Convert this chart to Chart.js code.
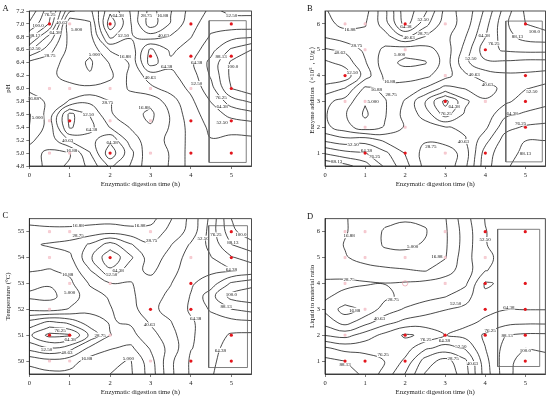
<!DOCTYPE html>
<html>
<head>
<meta charset="utf-8">
<script src="https://cdn.jsdelivr.net/npm/chart.js@4.4.1/dist/chart.umd.min.js"></script>
<style>
  body { margin: 0; background: #fff; width: 550px; height: 399px; overflow: hidden; position: relative; }
  canvas { position: absolute; }
</style>
</head>
<body>
<canvas id="pa" width="275" height="200" style="left:0;top:0"></canvas>
<canvas id="pb" width="275" height="200" style="left:275px;top:0"></canvas>
<canvas id="pc" width="275" height="199" style="left:0;top:200px"></canvas>
<canvas id="pd" width="275" height="199" style="left:275px;top:200px"></canvas>
<script>
// shared
const gridX = [0, 0.5, 1, 1.5, 2, 2.5, 3, 3.5, 4, 4.5, 5, 5.5];
const levels = [5, 16.875, 28.75, 40.625, 52.5, 64.375, 76.25, 88.125, 100];
const timeTicks = [0, 1, 2, 3, 4, 5];
const xTitle = "Enzymatic digestion time (h)";

// ---- A : pH ----
const aGridY = [7.2, 7.0, 6.8, 6.6, 6.4, 6.2, 6.0, 5.8, 5.6, 5.4, 5.2, 5.0, 4.8];
const aZ = [
  [110, 80, 30, 25, 62, 40, 12, 28, 45, 55, 50, 50],
  [98, 75, 6, 15, 72, 42, 10, 30, 48, 60, 58, 57],
  [80, 48, 12, 12, 55, 42, 35, 42, 52, 66, 72, 75],
  [55, 33, 13, 8, 30, 32, 67, 50, 58, 72, 90, 100],
  [25, 22, 12, 3, 18, 30, 70, 55, 62, 80, 102, 110],
  [22, 20, 12, 6, 14, 32, 46, 50, 58, 78, 103, 112],
  [18, 21, 21, 20, 22, 30, 38, 45, 55, 72, 100, 108],
  [14, 18, 30, 38, 29, 24, 20, 35, 50, 65, 82, 90],
  [4, 22, 68, 52, 30, 22, 14, 30, 48, 58, 68, 72],
  [5, 22, 66, 56, 40, 28, 18, 30, 45, 55, 56, 58],
  [15, 22, 42, 48, 62, 35, 22, 32, 44, 52, 50, 50],
  [20, 15, 16, 40, 72, 45, 18, 30, 45, 50, 48, 48],
  [22, 14, 18, 32, 55, 40, 20, 30, 45, 50, 48, 48]
];
const aTicks = [4.8, 5.0, 5.2, 5.4, 5.6, 5.8, 6.0, 6.2, 6.4, 6.6, 6.8, 7.0, 7.2];
const aRed = [[0.5, 7], [2, 7], [4, 7], [5, 7], [3, 6.5], [4, 6.5], [5, 6.5], [5, 6], [1, 5.5], [4, 5.5], [5, 5.5], [2, 5], [4, 5], [5, 5]];
const aPink = [[1, 7], [0.5, 6], [1, 6], [2, 6], [3, 6], [4, 6], [0.5, 5.5], [2, 5.5], [3, 5.5], [0.5, 5], [1, 5], [3, 5]];
const aBox = [4.45, 4.855, 5.37, 7.05];
const aLabels = [
  [0.51, 7.14, "76.25"], [0.22, 6.98, "100.0"], [0.8, 7.03, "40.63"], [0.64, 6.87, "64.38"],
  [0.14, 6.83, "88.13"], [0.14, 6.62, "52.50"], [0.51, 6.52, "28.75"], [1.17, 6.92, "5.000"],
  [2.2, 7.13, "64.38"], [2.33, 6.83, "52.50"], [2.9, 7.13, "28.75"], [3.3, 7.13, "16.88"],
  [3.32, 6.83, "40.63"], [1.61, 6.53, "5.000"], [2.37, 6.49, "16.88"], [3.4, 6.34, "64.38"],
  [2.99, 6.17, "40.63"], [4.14, 6.41, "64.38"], [4.14, 6.08, "52.50"], [4.75, 6.49, "88.13"],
  [5.03, 6.34, "100.0"], [4.75, 5.86, "76.25"], [4.77, 5.72, "64.38"], [4.77, 5.48, "52.50"],
  [5.01, 7.13, "52.50"], [0.1, 5.85, "16.88"], [0.2, 5.55, "5.000"], [1.94, 5.79, "28.75"],
  [2.84, 5.71, "16.88"], [1.46, 5.6, "52.50"], [1.54, 5.36, "64.38"], [0.95, 5.2, "40.63"],
  [1.05, 5.04, "16.88"], [2.05, 5.17, "64.38"]
];

// ---- B : enzyme addition ----
const bGridY = [6.5, 6.0, 5.5, 5.0, 4.5, 4.0, 3.5, 3.0, 2.5, 2.0, 1.5, 1.0, 0.5];
const bZ = [
  [18, 10, 12, 38, 72, 55, 25, 32, 55, 82, 102, 112],
  [20, 14, 16, 35, 70, 45, 22, 34, 60, 86, 100, 106],
  [28, 22, 20, 24, 40, 28, 25, 40, 64, 84, 92, 94],
  [42, 38, 26, 14, 10, 12, 22, 45, 72, 78, 80, 80],
  [55, 48, 30, 10, 2, 4, 22, 50, 62, 62, 60, 60],
  [62, 60, 35, 14, 12, 14, 24, 38, 46, 50, 50, 48],
  [48, 40, 14, 20, 22, 30, 45, 40, 36, 44, 52, 55],
  [32, 24, 6, 16, 30, 52, 80, 55, 42, 50, 58, 62],
  [30, 18, 3, 16, 33, 45, 70, 50, 45, 62, 66, 68],
  [32, 22, 10, 18, 30, 36, 40, 42, 50, 72, 78, 80],
  [50, 45, 48, 38, 30, 30, 34, 40, 60, 82, 88, 88],
  [75, 68, 65, 55, 40, 24, 20, 35, 70, 85, 90, 92],
  [98, 92, 82, 62, 45, 25, 20, 38, 72, 86, 95, 98]
];
const bTicks = [1, 2, 3, 4, 5, 6];
const bRed = [[2, 6], [5, 6], [4, 5], [0.5, 4], [5, 4], [3, 3], [5, 3], [5, 2], [1, 1], [2, 1], [4, 1]];
const bPink = [[0.5, 6], [1, 6], [3, 6], [1, 5], [2, 5], [3, 4], [0.5, 3], [1, 3], [4, 3], [1, 2], [2, 2], [3, 1]];
const bBox = [4.51, 0.66, 5.42, 6.11];
const bLabels = [
  [0.62, 5.79, "16.88"], [2.02, 5.92, "64.38"], [2.45, 6.17, "52.50"], [2.45, 5.62, "28.75"],
  [2.1, 5.48, "40.63"], [0.79, 5.15, "28.75"], [0.37, 4.89, "40.63"], [0.68, 4.12, "52.50"],
  [1.86, 4.83, "5.000"], [1.61, 3.77, "16.88"], [1.28, 3.45, "16.88"], [1.65, 3.26, "28.75"],
  [1.2, 3.0, "5.000"], [3.22, 2.81, "64.38"], [3.02, 2.52, "76.25"], [3.64, 4.67, "52.50"],
  [3.72, 4.03, "40.63"], [3.97, 5.57, "64.38"], [4.21, 5.25, "76.25"], [4.05, 3.64, "40.63"],
  [5.22, 5.72, "100.0"], [4.8, 5.52, "88.13"], [5.16, 3.39, "52.50"], [4.67, 2.55, "64.38"],
  [4.88, 2.15, "76.25"], [5.0, 0.99, "88.13"], [0.7, 1.33, "52.50"], [1.03, 1.11, "64.38"],
  [1.24, 0.88, "76.25"], [0.29, 0.68, "88.13"], [2.64, 1.26, "28.75"], [3.45, 1.45, "40.63"]
];

// ---- C : temperature ----
const cGridY = [55.5, 55, 54.5, 54, 53.5, 53, 52.5, 52, 51.5, 51, 50.5, 50, 49.5];
const cZ = [
  [12, 12, 12, 12, 12, 10, 12, 28, 44, 68, 100, 112],
  [22, 20, 20, 22, 24, 22, 22, 32, 45, 70, 96, 110],
  [27, 30, 33, 42, 58, 42, 30, 40, 54, 68, 88, 95],
  [24, 23, 26, 50, 74, 55, 34, 45, 58, 64, 75, 82],
  [18, 16, 20, 40, 62, 45, 38, 48, 60, 62, 63, 68],
  [8, 6, 14, 30, 40, 40, 45, 52, 63, 70, 90, 96],
  [3, 2, 10, 24, 30, 38, 48, 55, 65, 84, 104, 108],
  [14, 12, 18, 26, 28, 35, 50, 56, 66, 78, 88, 92],
  [45, 55, 48, 34, 28, 30, 42, 52, 63, 70, 72, 74],
  [62, 80, 78, 50, 29, 25, 36, 48, 63, 70, 63, 62],
  [45, 52, 45, 26, 18, 14, 30, 45, 64, 68, 60, 58],
  [20, 25, 22, 12, 8, 4, 24, 50, 66, 66, 60, 58],
  [12, 14, 14, 10, 5, 3, 22, 50, 66, 65, 60, 58]
];
const cTicks = [50, 51, 52, 53, 54, 55];
const cRed = [[2, 54], [5, 55], [5, 54], [4, 53], [3, 52], [4, 52], [0.5, 51], [1, 51], [5, 51], [4, 50], [5, 50]];
const cPink = [[0.5, 55], [1, 55], [3, 55], [0.5, 54], [4, 54], [1, 53], [2, 53], [0.5, 52], [2, 51], [0.5, 50], [1, 50], [3, 50]];
const cBox = [4.44, 49.75, 5.40, 55.23];
const cLabels = [
  [1.21, 55.26, "16.88"], [2.74, 55.26, "16.88"], [1.21, 54.87, "28.75"], [3.03, 54.65, "28.75"],
  [4.3, 54.75, "52.50"], [4.62, 54.88, "76.25"], [5.24, 54.88, "100.0"], [5.04, 54.6, "88.13"],
  [2.2, 53.52, "64.38"], [2.04, 53.33, "52.50"], [0.95, 53.36, "16.88"], [1.0, 52.66, "5.000"],
  [5.0, 53.56, "64.38"], [5.0, 52.58, "100.0"], [4.87, 52.1, "88.13"], [4.12, 51.66, "64.38"],
  [2.97, 51.4, "40.63"], [0.76, 51.2, "76.25"], [1.01, 50.82, "64.38"], [1.75, 51.01, "28.75"],
  [0.43, 50.45, "52.50"], [0.93, 50.33, "40.63"], [1.42, 50.1, "16.88"], [2.45, 50.1, "5.000"],
  [4.73, 50.42, "64.38"]
];

// ---- D : liquid to material ratio ----
const dGridY = [6.5, 6.0, 5.5, 5.0, 4.5, 4.0, 3.5, 3.0, 2.5, 2.0, 1.5, 1.0, 0.5];
const dZ = [
  [22, 18, 10, 7, 6, 7, 16, 36, 53, 57, 58, 58],
  [24, 18, 10, 4, 2, 4, 15, 34, 52, 58, 58, 58],
  [26, 16, 10, 4, 3, 6, 15, 34, 52, 57, 58, 58],
  [28, 18, 12, 8, 8, 10, 16, 36, 50, 56, 58, 60],
  [26, 24, 22, 20, 18, 16, 24, 34, 52, 56, 60, 62],
  [30, 31, 30, 29, 30, 32, 34, 38, 66, 62, 62, 64],
  [30, 26, 22, 26, 32, 36, 40, 48, 62, 62, 62, 62],
  [26, 12, 20, 34, 42, 48, 52, 55, 62, 64, 64, 64],
  [36, 24, 36, 48, 56, 58, 60, 62, 66, 72, 74, 74],
  [52, 48, 58, 68, 78, 74, 64, 68, 78, 88, 90, 90],
  [78, 72, 72, 75, 70, 55, 48, 54, 76, 92, 100, 98],
  [92, 88, 82, 76, 62, 35, 24, 38, 72, 95, 106, 104],
  [98, 95, 85, 72, 52, 28, 20, 35, 70, 95, 108, 106]
];
const dTicks = [1, 2, 3, 4, 5, 6];
const dRed = [[4, 6], [5, 6], [4, 4], [5, 4], [4, 3], [5, 3], [2, 2], [3, 2], [4, 2], [5, 2], [0.5, 1], [1, 1], [2, 1], [5, 1]];
const dPink = [[0.5, 6], [1, 6], [3, 6], [0.5, 5], [1, 5], [2, 5], [3, 5], [4, 5], [0.5, 4], [3, 4], [1, 3], [0.5, 2]];
const dHollow = [[2, 4]];
const dBox = [4.31, 0.79, 5.36, 6.09];
const dLabels = [
  [0.6, 5.84, "16.88"], [2.19, 5.42, "5.000"], [2.79, 5.03, "16.88"], [4.0, 5.7, "52.50"],
  [0.6, 4.17, "28.75"], [1.7, 3.39, "28.75"], [3.26, 3.21, "52.50"], [0.74, 2.97, "16.88"],
  [1.36, 2.65, "40.63"], [4.59, 3.08, "64.38"], [4.12, 2.2, "76.25"], [4.55, 2.01, "88.13"],
  [2.52, 1.82, "76.25"], [2.98, 1.79, "64.38"], [3.39, 1.58, "52.50"], [3.2, 1.11, "28.75"],
  [3.68, 0.91, "40.63"], [5.0, 1.43, "100.0"], [1.45, 1.24, "76.25"], [0.5, 0.89, "88.13"]
];

const FONT = "Liberation Serif";

// marching squares on the grid, segments chained into polylines
function traceContours(gx, gy, z, level) {
  const pt = {}, adj = {};
  const edge = (r1, c1, r2, c2) => {
    const id = r1 + "_" + c1 + "_" + r2 + "_" + c2;
    if (!pt[id]) {
      const a = z[r1][c1], b = z[r2][c2];
      const t = (level - a) / (b - a);
      pt[id] = [gx[c1] + t * (gx[c2] - gx[c1]), gy[r1] + t * (gy[r2] - gy[r1])];
    }
    return id;
  };
  const link = (p, q) => {
    (adj[p] = adj[p] || []).push(q);
    (adj[q] = adj[q] || []).push(p);
  };
  const up = v => v >= level;
  for (let r = 0; r < gy.length - 1; r++) {
    for (let c = 0; c < gx.length - 1; c++) {
      const tl = z[r][c], tr = z[r][c + 1], br = z[r + 1][c + 1], bl = z[r + 1][c];
      const hit = [];
      if (up(tl) !== up(tr)) hit.push(["t", edge(r, c, r, c + 1)]);
      if (up(tr) !== up(br)) hit.push(["r", edge(r, c + 1, r + 1, c + 1)]);
      if (up(bl) !== up(br)) hit.push(["b", edge(r + 1, c, r + 1, c + 1)]);
      if (up(tl) !== up(bl)) hit.push(["l", edge(r, c, r + 1, c)]);
      if (hit.length === 2) link(hit[0][1], hit[1][1]);
      else if (hit.length === 4) {
        const e = {};
        hit.forEach(h => e[h[0]] = h[1]);
        const mid = (tl + tr + br + bl) / 4;
        if (up(mid) === up(tl)) { link(e.t, e.r); link(e.b, e.l); }
        else { link(e.t, e.l); link(e.b, e.r); }
      }
    }
  }
  const seen = new Set(), lines = [];
  const walk = s => {
    const line = [];
    let prev = null, cur = s, last = s;
    while (cur !== undefined && !seen.has(cur)) {
      seen.add(cur);
      line.push(pt[cur]);
      const nb = adj[cur].filter(n => n !== prev && !seen.has(n));
      last = cur;
      prev = cur;
      cur = nb[0];
    }
    if (line.length > 2 && adj[last].includes(s)) line.push(pt[s]);
    return line;
  };
  Object.keys(adj).filter(k => adj[k].length === 1).forEach(k => { if (!seen.has(k)) lines.push(walk(k)); });
  Object.keys(adj).forEach(k => { if (!seen.has(k)) lines.push(walk(k)); });
  return lines.filter(l => l.length > 1);
}

const toPts = arr => arr.map(p => ({ x: p[0], y: p[1] }));

function panel(id, p) {
  const contours = [];
  levels.forEach(lv => {
    traceContours(gridX, p.gy, p.z, lv).forEach(line => {
      contours.push({
        data: toPts(line), showLine: true, borderColor: "#0d0d0d", borderWidth: 0.75,
        pointRadius: 0, tension: 0.4, fill: false
      });
    });
  });
  const b = p.box;
  const datasets = [
    { data: toPts(p.red), pointRadius: 1.6, pointBackgroundColor: "#e3161d", pointBorderWidth: 0 },
    { data: toPts(p.pink), pointStyle: "rect", pointRadius: 1.5, pointBackgroundColor: "#f8d3d8",
      pointBorderColor: "#f0b0ba", pointBorderWidth: 0.5 },
    { data: toPts(p.hollow || []), pointRadius: 2.6, pointBackgroundColor: "rgba(0,0,0,0)",
      pointBorderColor: "#e99aa6", pointBorderWidth: 0.7 },
    { data: toPts([[b[0], b[1]], [b[2], b[1]], [b[2], b[3]], [b[0], b[3]], [b[0], b[1]]]),
      showLine: true, borderColor: "#5e5e5e", borderWidth: 0.8, pointRadius: 0, tension: 0 },
    ...contours
  ];

  const extras = {
    id: "extras",
    afterDatasetDraw(chart, args) {
      if (args.index !== 4) return;
      const { ctx, scales: { x, y } } = chart;
      ctx.save();
      ctx.font = "5px '" + FONT + "'";
      ctx.textAlign = "center";
      ctx.textBaseline = "middle";
      p.labels.forEach(l => {
        const px = x.getPixelForValue(l[0]), py = y.getPixelForValue(l[1]);
        const w = ctx.measureText(l[2]).width;
        ctx.fillStyle = "#fff";
        ctx.fillRect(px - w / 2 - 0.5, py - 2.4, w + 1, 4.8);
        ctx.fillStyle = "#111";
        ctx.fillText(l[2], px, py + 0.3);
      });
      ctx.restore();
    },
    afterDraw(chart) {
      const { ctx, chartArea: a } = chart;
      ctx.save();
      ctx.strokeStyle = "#222";
      ctx.lineWidth = 0.8;
      ctx.strokeRect(a.left, a.top, a.right - a.left, a.bottom - a.top);
      ctx.fillStyle = "#111";
      ctx.font = "8.5px '" + FONT + "'";
      ctx.textBaseline = "alphabetic";
      ctx.fillText(p.letter, p.letterX, p.letterY);
      ctx.restore();
    }
  };

  new Chart(document.getElementById(id), {
    type: "scatter",
    data: { datasets },
    plugins: [extras],
    options: {
      responsive: false,
      animation: false,
      events: [],
      layout: { padding: p.pad },
      plugins: { legend: { display: false }, tooltip: { enabled: false } },
      scales: {
        x: {
          type: "linear", min: 0, max: 5.5,
          afterBuildTicks: ax => { ax.ticks = timeTicks.map(v => ({ value: v })); },
          afterFit: s => { s.height = p.xH; },
          ticks: { font: { family: FONT, size: 6.5 }, color: "#222", padding: 2, maxRotation: 0 },
          grid: { drawOnChartArea: false, drawTicks: true, tickLength: 3, color: "#222", lineWidth: 0.6 },
          border: { display: true, color: "#222", width: 0.8 },
          title: { display: true, text: xTitle, font: { family: FONT, size: 6.8 }, color: "#222", padding: 0 }
        },
        y: {
          type: "linear", min: p.yMin, max: p.yMax,
          afterBuildTicks: ax => { ax.ticks = p.yTicks.map(v => ({ value: v })); },
          afterFit: s => { s.width = p.yW; },
          ticks: { font: { family: FONT, size: 6.5 }, color: "#222", padding: 2,
            callback: v => p.fmt ? v.toFixed(1) : String(v) },
          grid: { drawOnChartArea: false, drawTicks: true, tickLength: 3, color: "#222", lineWidth: 0.6 },
          border: { display: true, color: "#222", width: 0.8 },
          title: { display: true, text: p.yTitle, font: { family: FONT, size: 6.8 }, color: "#222", padding: 0 }
        }
      }
    }
  });
}

panel("pa", {
  gy: aGridY, z: aZ, red: aRed, pink: aPink, box: aBox, labels: aLabels,
  yMin: 4.8, yMax: 7.2, yTicks: aTicks, fmt: true, yTitle: "pH",
  letter: "A", letterX: 2.5, letterY: 10.8,
  pad: { left: 4, right: 23.5, top: 11, bottom: 12 }, yW: 25.3, xH: 22
});
panel("pb", {
  gy: bGridY, z: bZ, red: bRed, pink: bPink, box: bBox, labels: bLabels,
  yMin: 0.5, yMax: 6.5, yTicks: bTicks, yTitle: "Enzyme addition（×10⁵，U/g）",
  letter: "B", letterX: 32, letterY: 10.8,
  pad: { left: 33.4, right: 2.8, top: 11, bottom: 12 }, yW: 16.6, xH: 22
});
panel("pc", {
  gy: cGridY, z: cZ, red: cRed, pink: cPink, box: cBox, labels: cLabels,
  yMin: 49.5, yMax: 55.5, yTicks: cTicks, yTitle: "Temperature (°C)",
  letter: "C", letterX: 2.5, letterY: 18.3,
  pad: { left: 4, right: 23.5, top: 18.7, bottom: 2.4 }, yW: 25.3, xH: 22.6
});
panel("pd", {
  gy: dGridY, z: dZ, red: dRed, pink: dPink, hollow: dHollow, box: dBox, labels: dLabels,
  yMin: 0.5, yMax: 6.5, yTicks: dTicks, yTitle: "Liquid to material ratio",
  letter: "D", letterX: 32, letterY: 19,
  pad: { left: 33, right: 2.8, top: 18.7, bottom: 2.4 }, yW: 17, xH: 22.6
});
</script>
</body>
</html>
